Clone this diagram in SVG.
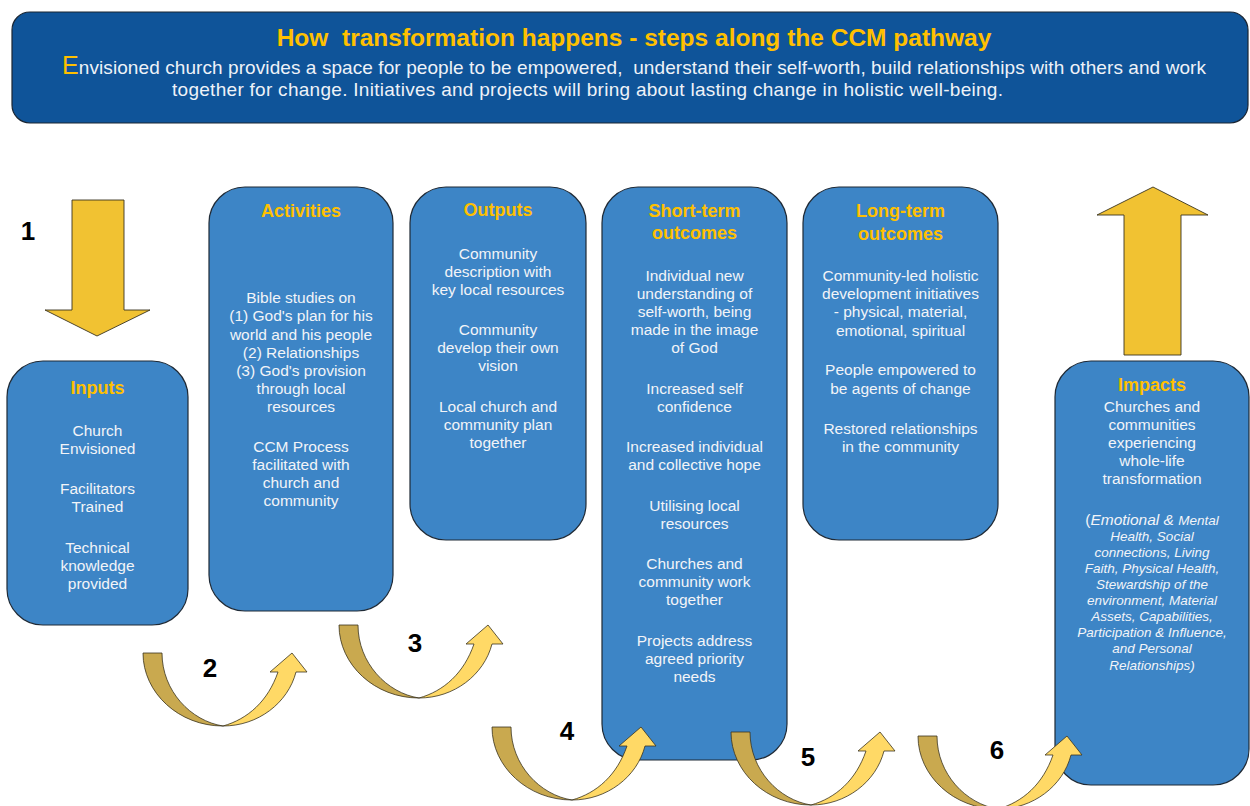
<svg xmlns="http://www.w3.org/2000/svg" xmlns:xlink="http://www.w3.org/1999/xlink" width="1250" height="806" viewBox="0 0 1250 806">
<style>
.box{fill:#3D85C6;stroke:#1F2A36;stroke-width:1.2}
.hd{font-family:"Liberation Sans",Arial,sans-serif;font-weight:bold;font-size:18px;fill:#FFC000;text-anchor:middle}
.tx{font-family:"Liberation Sans",Arial,sans-serif;font-size:15.5px;fill:#F2F4F8;text-anchor:middle}
.it{font-family:"Liberation Sans",Arial,sans-serif;font-size:13.5px;font-style:italic;fill:#F2F4F8;text-anchor:middle}
.num{font-family:"Liberation Sans",Arial,sans-serif;font-weight:bold;font-size:26px;fill:#000;text-anchor:middle}
.dk{fill:#C9A94F;stroke:#3A3420;stroke-width:0.8}
.lt{fill:#FFD966;stroke:#3A3420;stroke-width:0.8}
.big{fill:#F1C232;stroke:#3A3420;stroke-width:0.9}
</style>
<defs>
<g id="uarrow">
<path class="dk" d="M0,0 C0,40 36,73 80,73 C48,68 19,38 19,0 Z"/>
<path class="lt" d="M80,73 C115,73 145,50 153,19 L164,19 L149,0 L127,19 L135,19 C125,48 105,66 80,73 Z"/>
</g>
</defs>
<rect width="1250" height="806" fill="#fff"/>
<g id="header">
<rect x="12" y="12" width="1236" height="111" rx="18" fill="#0F5499" stroke="#1B2633" stroke-width="1.2"/>
<text x="634" y="46" xml:space="preserve" font-family="'Liberation Sans',Arial,sans-serif" font-weight="bold" font-size="24.5" fill="#FFC000" text-anchor="middle">How  transformation happens - steps along the CCM pathway</text>
<text x="62" y="74" xml:space="preserve" font-family="'Liberation Sans',Arial,sans-serif" font-size="19" fill="#EEF2F8" textLength="1144" lengthAdjust="spacing"><tspan fill="#FFC000" font-size="25">E</tspan>nvisioned church provides a space for people to be empowered,  understand their self-worth, build relationships with others and work</text>
<text x="172" y="96" font-family="'Liberation Sans',Arial,sans-serif" font-size="19" fill="#EEF2F8" textLength="831" lengthAdjust="spacing">together for change. Initiatives and projects will bring about lasting change in holistic well-being.</text>
</g>
<g id="inputs">
<rect class="box" x="7" y="361" width="181" height="264" rx="36"/>
<text class="hd" x="97.5" y="394">Inputs</text>
<text class="tx" x="97.5" y="436">Church</text>
<text class="tx" x="97.5" y="454">Envisioned</text>
<text class="tx" x="97.5" y="494">Facilitators</text>
<text class="tx" x="97.5" y="512">Trained</text>
<text class="tx" x="97.5" y="553">Technical</text>
<text class="tx" x="97.5" y="571">knowledge</text>
<text class="tx" x="97.5" y="589">provided</text>
</g>
<g id="activities">
<rect class="box" x="209" y="187" width="184" height="424" rx="36"/>
<text class="hd" x="301" y="217">Activities</text>
<text class="tx" x="301" y="303">Bible studies on</text>
<text class="tx" x="301" y="321">(1) God's plan for his</text>
<text class="tx" x="301" y="340">world and his people</text>
<text class="tx" x="301" y="358">(2) Relationships</text>
<text class="tx" x="301" y="376">(3) God's provision</text>
<text class="tx" x="301" y="394">through local</text>
<text class="tx" x="301" y="412">resources</text>
<text class="tx" x="301" y="452">CCM Process</text>
<text class="tx" x="301" y="470">facilitated with</text>
<text class="tx" x="301" y="488">church and</text>
<text class="tx" x="301" y="506">community</text>
</g>
<g id="outputs">
<rect class="box" x="410" y="187" width="176" height="353" rx="36"/>
<text class="hd" x="498" y="216">Outputs</text>
<text class="tx" x="498" y="259">Community</text>
<text class="tx" x="498" y="277">description with</text>
<text class="tx" x="498" y="295">key local resources</text>
<text class="tx" x="498" y="335">Community</text>
<text class="tx" x="498" y="353">develop their own</text>
<text class="tx" x="498" y="371">vision</text>
<text class="tx" x="498" y="412">Local church and</text>
<text class="tx" x="498" y="430">community plan</text>
<text class="tx" x="498" y="448">together</text>
</g>
<g id="short-term">
<rect class="box" x="602" y="187" width="185" height="573" rx="36"/>
<text class="hd" x="694.5" y="217">Short-term</text>
<text class="hd" x="694.5" y="239">outcomes</text>
<text class="tx" x="694.5" y="281">Individual new</text>
<text class="tx" x="694.5" y="299">understanding of</text>
<text class="tx" x="694.5" y="317">self-worth, being</text>
<text class="tx" x="694.5" y="335">made in the image</text>
<text class="tx" x="694.5" y="353">of God</text>
<text class="tx" x="694.5" y="394">Increased self</text>
<text class="tx" x="694.5" y="412">confidence</text>
<text class="tx" x="694.5" y="452">Increased individual</text>
<text class="tx" x="694.5" y="470">and collective hope</text>
<text class="tx" x="694.5" y="511">Utilising local</text>
<text class="tx" x="694.5" y="529">resources</text>
<text class="tx" x="694.5" y="569">Churches and</text>
<text class="tx" x="694.5" y="587">community work</text>
<text class="tx" x="694.5" y="605">together</text>
<text class="tx" x="694.5" y="646">Projects address</text>
<text class="tx" x="694.5" y="664">agreed priority</text>
<text class="tx" x="694.5" y="682">needs</text>
</g>
<g id="long-term">
<rect class="box" x="803" y="187" width="195" height="353" rx="36"/>
<text class="hd" x="900.5" y="217">Long-term</text>
<text class="hd" x="900.5" y="240">outcomes</text>
<text class="tx" x="900.5" y="281">Community-led holistic</text>
<text class="tx" x="900.5" y="299">development initiatives</text>
<text class="tx" x="900.5" y="317">- physical, material,</text>
<text class="tx" x="900.5" y="336">emotional, spiritual</text>
<text class="tx" x="900.5" y="375">People empowered to</text>
<text class="tx" x="900.5" y="394">be agents of change</text>
<text class="tx" x="900.5" y="434">Restored relationships</text>
<text class="tx" x="900.5" y="452">in the community</text>
</g>
<g id="impacts">
<rect class="box" x="1055" y="361" width="194" height="424" rx="36"/>
<text class="hd" x="1152" y="391">Impacts</text>
<text class="tx" x="1152" y="412">Churches and</text>
<text class="tx" x="1152" y="430">communities</text>
<text class="tx" x="1152" y="448">experiencing</text>
<text class="tx" x="1152" y="466">whole-life</text>
<text class="tx" x="1152" y="484">transformation</text>
<text class="it" x="1152" y="525"><tspan font-size="15.5" font-style="normal">(</tspan><tspan font-size="15.5">Emotional &amp; </tspan>Mental</text>
<text class="it" x="1152" y="541">Health, Social</text>
<text class="it" x="1152" y="557">connections, Living</text>
<text class="it" x="1152" y="573">Faith, Physical Health,</text>
<text class="it" x="1152" y="589">Stewardship of the</text>
<text class="it" x="1152" y="605">environment, Material</text>
<text class="it" x="1152" y="621">Assets, Capabilities,</text>
<text class="it" x="1152" y="637">Participation &amp; Influence,</text>
<text class="it" x="1152" y="653">and Personal</text>
<text class="it" x="1152" y="670">Relationships)</text>
</g>
<g id="connectors">
<path class="big" d="M72,200 L124,200 L124,310 L150,310 L97,336 L45,310 L72,310 Z"/>
<path class="big" d="M1124,355 L1181,355 L1181,215 L1208,215 L1153,187 L1097,215 L1124,215 Z"/>
<use xlink:href="#uarrow" x="143" y="653"/>
<use xlink:href="#uarrow" x="339" y="625"/>
<use xlink:href="#uarrow" x="492" y="727"/>
<use xlink:href="#uarrow" x="731" y="732"/>
<use xlink:href="#uarrow" x="918" y="736"/>
<text class="num" x="28" y="240" font-size="25">1</text>
<text class="num" x="210" y="677">2</text>
<text class="num" x="415" y="652">3</text>
<text class="num" x="567" y="740">4</text>
<text class="num" x="808" y="766">5</text>
<text class="num" x="997" y="759">6</text>
</g>
</svg>
